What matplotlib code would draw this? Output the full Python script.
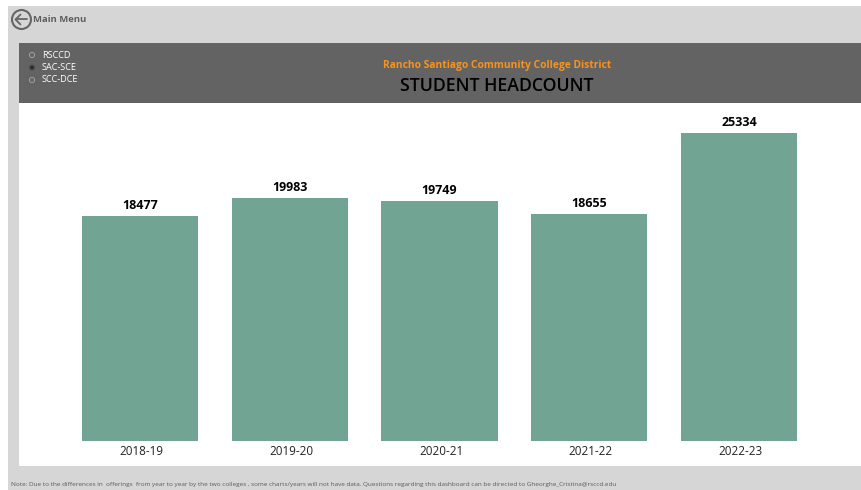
"""Student headcount dashboard screenshot, redrawn with matplotlib."""

import matplotlib
matplotlib.use("Agg")
import matplotlib.pyplot as plt
from matplotlib.patches import Circle, Rectangle
from matplotlib.transforms import ScaledTranslation

W, H = 862, 490

# ---------------------------------------------------------------------------
# Data
# ---------------------------------------------------------------------------

years = ["2018-19", "2019-20", "2020-21", "2021-22", "2022-23"]
headcount = [18477, 19983, 19749, 18655, 25334]
radio_labels = ["RSCCD", "SAC-SCE", "SCC-DCE"]
radio_selected = "SAC-SCE"

NOTE = ("Note: Due to the differences in  offerings  from year to year by the two colleges , "
        "some charts/years will not have data. Questions regarding this dashboard can be "
        "directed to Gheorghe_Cristina@rsccd.edu")

plt.rcParams["font.family"] = ["Open Sans", "DejaVu Sans"]

fig = plt.figure(figsize=(W / 100, H / 100), dpi=100, facecolor="white")

# --- Page furniture, in pixel coordinates ---
bg = fig.add_axes([0, 0, 1, 1])
bg.set_xlim(0, W)
bg.set_ylim(H, 0)
bg.axis("off")

bg.add_patch(Rectangle((8, 6), W - 8, H - 6, color="#d6d6d6", lw=0))
bg.add_patch(Rectangle((19, 43), W - 19 + 2, 60, color="#636363", lw=0))
bg.add_patch(Rectangle((19, 103), W - 19 + 2, 363, color="white", lw=0))

# back arrow icon
bg.add_patch(Circle((21.5, 19.5), 9.5, fc="none", ec="#666666", lw=1.5))
bg.plot([16, 27.5], [19.5, 19.5], color="#666666", lw=1.3, solid_capstyle="round")
bg.plot([20.5, 15.5, 20.5], [14.5, 19.5, 24.5], color="#666666", lw=1.3,
        solid_capstyle="round")
bg.text(33, 19.5, "Main Menu", fontsize=6.8, fontweight="bold", color="#5f5f5f",
        va="center", ha="left")

# slicer
for label, y in zip(radio_labels, [55, 67.5, 80]):
    selected = label == radio_selected
    bg.add_patch(Circle((32, y), 2.6, fc="#2f2f2f" if selected else "#636363",
                        ec="#555555" if selected else "#a0a0a0", lw=0.7))
    bg.text(42, y, label, fontsize=6.6, color="white", va="center", ha="left")

# titles
bg.text(497.5, 65.5, "Rancho Santiago Community College District", fontsize=7.4,
        fontweight="bold", color="#f7931e", va="center", ha="center")
bg.text(496.5, 86, "STUDENT HEADCOUNT", fontsize=12.8, fontweight="semibold", color="black",
        va="center", ha="center")

bg.text(11, 484, NOTE, fontsize=4.55, color="#5a5a5a", va="center", ha="left")

# --- Bars ---
ax = fig.add_axes([65 / W, (H - 441) / H, (814 - 65) / W, (441 - 103) / H])
ax.patch.set_alpha(0)
bars = ax.bar(years, headcount, width=0.775, color="#71a492")
ax.set_xlim(-0.5, 4.5)
ax.set_ylim(0, 27800)
ax.set_yticks([])
ax.tick_params(axis="x", length=0, pad=3, labelsize=8.4, labelcolor="#222222")
# tick labels sit a touch right of the bar centres in the original
nudge = ScaledTranslation(1.5 / 100, 0, fig.dpi_scale_trans)
for lab in ax.get_xticklabels():
    lab.set_transform(lab.get_transform() + nudge)
for side in ax.spines.values():
    side.set_visible(False)
ax.bar_label(bars, labels=[str(v) for v in headcount], padding=3, fontsize=9,
             fontweight="bold", color="black")

fig.savefig("out.png", dpi=100)
